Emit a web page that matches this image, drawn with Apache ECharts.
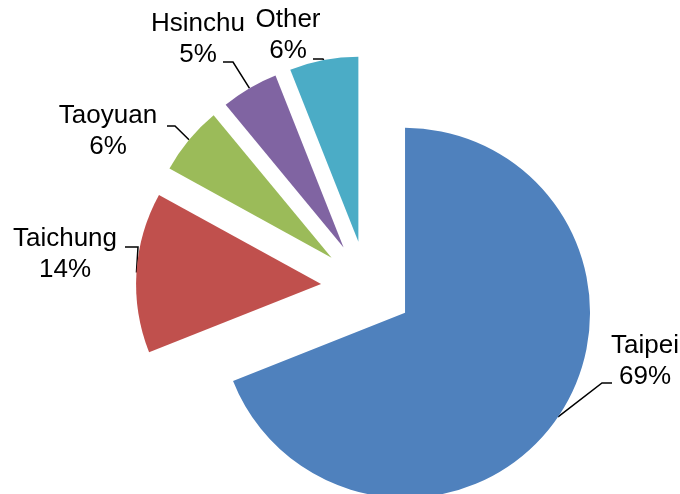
<!DOCTYPE html>
<html>
<head>
<meta charset="utf-8">
<script src="https://cdn.jsdelivr.net/npm/echarts@6/dist/echarts.min.js"></script>
<style>
  html, body { margin: 0; padding: 0; background: #fff; }
  #chart { width: 680px; height: 494px; }
</style>
</head>
<body>
<div id="chart"></div>
<script>
// Share of total by city (percent)
const cities = ['Taipei', 'Taichung', 'Taoyuan', 'Hsinchu', 'Other'];
const shares = [69, 14, 6, 5, 6];
const colors = ['#4F81BD', '#C0504D', '#9BBB59', '#8064A2', '#4BACC6'];

// Label placement: centre of each two-line text block, and the elbow / end of its leader line
const labelSpots = [[645, 361], [65, 254], [108, 131], [198, 39], [288, 35]];
const leaderElbows = [[602, 383], [138, 247], [175, 126], [233, 62], [323, 59]];
const leaderEnds = [[612, 383], [125, 247], [167, 126], [223, 62], [313, 59]];

const EXPLODE = 46;
const FONT = 'Liberation Sans, Arial, sans-serif';
const total = shares.reduce((a, b) => a + b, 0);

// Offset that the exploded slice i is pushed out by (along its mid angle)
function sliceShift(i) {
  let before = 0;
  for (let k = 0; k < i; k++) before += shares[k];
  const mid = (before + shares[i] / 2) / total * 2 * Math.PI;
  return [EXPLODE * Math.sin(mid), -EXPLODE * Math.cos(mid)];
}

const chart = echarts.init(document.getElementById('chart'), null, { renderer: 'canvas' });

chart.setOption({
  animation: false,
  series: [{
    type: 'pie',
    center: [367, 287],
    radius: [0, 185],
    startAngle: 90,
    clockwise: true,
    selectedMode: 'multiple',
    selectedOffset: EXPLODE,
    avoidLabelOverlap: false,
    emphasis: { disabled: true },
    label: {
      show: true,
      position: 'outside',
      formatter: p => `{t|${p.name}}\n{t|${p.value}%}`,
      rich: {
        t: {
          width: 130,
          align: 'center',
          fontFamily: FONT,
          fontSize: 26,
          lineHeight: 31,
          color: '#000'
        }
      }
    },
    labelLine: {
      show: true,
      length: 14,
      length2: 10,
      lineStyle: { color: '#000', width: 1.5 }
    },
    labelLayout: function (params) {
      const i = params.dataIndex;
      const s = sliceShift(i);
      const spot = labelSpots[i];
      const r = params.labelRect;
      const elbow = leaderElbows[i];
      const end = leaderEnds[i];
      const start = params.labelLinePoints[0];
      return {
        dx: spot[0] - (r.x + r.width / 2) - s[0],
        dy: spot[1] - (r.y + r.height / 2) - s[1],
        labelLinePoints: [
          [start[0], start[1]],
          [elbow[0] - s[0], elbow[1] - s[1]],
          [end[0] - s[0], end[1] - s[1]]
        ],
        hideOverlap: false
      };
    },
    itemStyle: { borderWidth: 0 },
    data: cities.map((name, i) => ({
      name: name,
      value: shares[i],
      selected: true,
      itemStyle: { color: colors[i] }
    }))
  }]
});
</script>
</body>
</html>
